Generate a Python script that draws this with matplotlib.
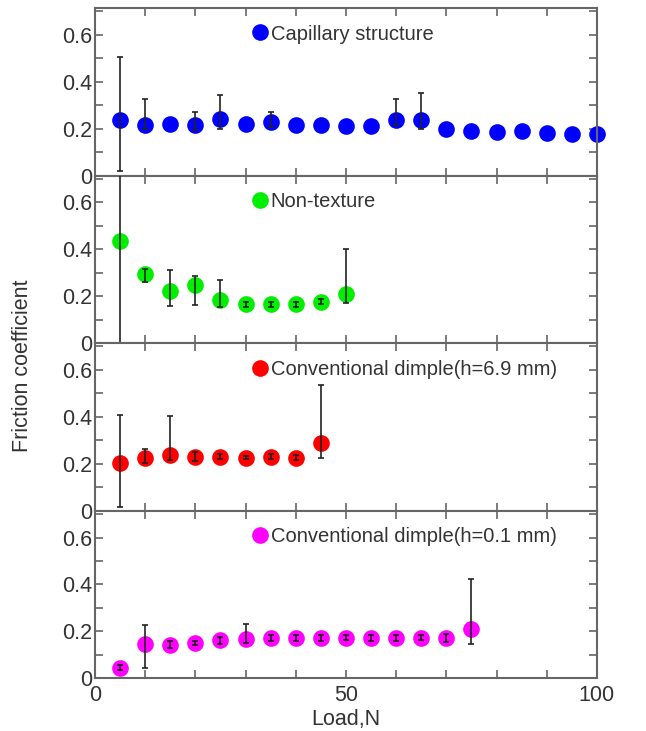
import numpy as np
import matplotlib
matplotlib.use('Agg')
import matplotlib.pyplot as plt
from matplotlib.ticker import MultipleLocator

plt.rcParams['font.family'] = ['Liberation Sans', 'DejaVu Sans']

# capillary structure
cap_load = [5, 10, 15, 20, 25, 30, 35, 40, 45, 50, 55, 60, 65, 70, 75, 80, 85, 90, 95, 100]
cap_mu = [0.236, 0.217, 0.219, 0.214, 0.240, 0.220, 0.229, 0.217, 0.214, 0.213,
          0.213, 0.236, 0.236, 0.197, 0.190, 0.184, 0.189, 0.180, 0.176, 0.176]
cap_lo = [0.216, 0.020, 0.0, 0.020, 0.040, 0.0, 0.020, 0.0, 0.0, 0.0,
          0.0, 0.020, 0.036, 0.0, 0.0, 0.0, 0.0, 0.0, 0.0, 0.0]
cap_hi = [0.271, 0.109, 0.0, 0.055, 0.103, 0.0, 0.040, 0.0, 0.0, 0.0,
          0.0, 0.090, 0.114, 0.0, 0.0, 0.0, 0.0, 0.0, 0.0, 0.0]

# non-texture
non_load = [5, 10, 15, 20, 25, 30, 35, 40, 45, 50]
non_mu = [0.436, 0.296, 0.222, 0.250, 0.185, 0.165, 0.165, 0.165, 0.177, 0.208]
non_lo = [0.436, 0.035, 0.064, 0.087, 0.029, 0.010, 0.010, 0.010, 0.010, 0.036]
non_hi = [0.436, 0.021, 0.089, 0.037, 0.085, 0.010, 0.010, 0.010, 0.010, 0.193]

# conventional dimple h=6.9 mm
d69_load = [5, 10, 15, 20, 25, 30, 35, 40, 45]
d69_mu = [0.202, 0.223, 0.237, 0.230, 0.230, 0.227, 0.230, 0.226, 0.290]
d69_lo = [0.184, 0.020, 0.020, 0.020, 0.010, 0.005, 0.010, 0.010, 0.067]
d69_hi = [0.205, 0.040, 0.167, 0.020, 0.010, 0.005, 0.010, 0.010, 0.248]

# conventional dimple h=0.1 mm
d01_load = [5, 10, 15, 20, 25, 30, 35, 40, 45, 50, 55, 60, 65, 70, 75]
d01_mu = [0.046, 0.146, 0.144, 0.151, 0.162, 0.169, 0.172, 0.172, 0.172, 0.174,
          0.172, 0.172, 0.174, 0.172, 0.210]
d01_lo = [0.010, 0.103, 0.015, 0.010, 0.015, 0.020, 0.012, 0.012, 0.012, 0.010,
          0.012, 0.012, 0.012, 0.015, 0.064]
d01_hi = [0.010, 0.081, 0.015, 0.010, 0.015, 0.063, 0.012, 0.012, 0.012, 0.010,
          0.012, 0.012, 0.012, 0.015, 0.215]

series = [
    (cap_load, cap_mu, cap_lo, cap_hi, '#0000ff', 'Capillary structure'),
    (non_load, non_mu, non_lo, non_hi, '#00ee00', 'Non-texture'),
    (d69_load, d69_mu, d69_lo, d69_hi, '#ff0000', 'Conventional dimple(h=6.9 mm)'),
    (d01_load, d01_mu, d01_lo, d01_hi, '#ff00ff', 'Conventional dimple(h=0.1 mm)'),
]

fig = plt.figure(figsize=(6.46, 7.31), dpi=100)
left, right = 0.147, 0.924
bottom, top = 0.072, 0.989
h = (top - bottom) / 4
spine_c = '#666666'
txt_c = '#333333'

for i, (x, y, lo, hi, col, lab) in enumerate(series):
    ax = fig.add_axes([left, top - (i + 1) * h, right - left, h])
    x, y, lo, hi = map(np.array, (x, y, lo, hi))
    keep = (lo > 0) | (hi > 0)
    ax.plot(x, y, 'o', color=col, markersize=12, markeredgewidth=0, label=lab,
            zorder=2, clip_on=False)
    ax.errorbar(x[keep], y[keep], yerr=[lo[keep], hi[keep]], fmt='none',
                ecolor='#222222', elinewidth=1.2, capsize=2.5, capthick=1.2, zorder=3)
    ax.set_xlim(0, 100)
    ax.set_ylim(0, 0.714)
    ax.set_yticks([0, 0.2, 0.4, 0.6])
    ax.set_yticklabels(['0', '0.2', '0.4', '0.6'])
    ax.yaxis.set_minor_locator(MultipleLocator(0.1))
    ax.set_xticks([0, 50, 100])
    ax.xaxis.set_minor_locator(MultipleLocator(10))
    ax.tick_params(which='both', direction='in', top=True, right=True,
                   colors=spine_c, labelcolor=txt_c, labelsize=15.5, width=1.2,
                   length=6)
    ax.tick_params(axis='y', pad=2)
    ax.tick_params(axis='x', pad=5)
    for s in ax.spines.values():
        s.set_color(spine_c)
        s.set_linewidth(1.5)
    if i < 3:
        ax.tick_params(labelbottom=False)
    else:
        ax.set_xticklabels(['0', '50', '100'])
        ax.set_xlabel('Load,N', fontsize=15.5, color=txt_c, labelpad=2)
    ax.legend(loc='center left', bbox_to_anchor=(0.314, 0.845), frameon=False,
              handlelength=0.7, handletextpad=0.2, fontsize=14.5, borderaxespad=0,
              borderpad=0, labelcolor=txt_c, numpoints=1)

fig.text(0.035, 0.5, 'Friction coefficient', rotation=90, ha='center', va='center',
         fontsize=15.5, color=txt_c)

fig.savefig('out.png', dpi=100)
